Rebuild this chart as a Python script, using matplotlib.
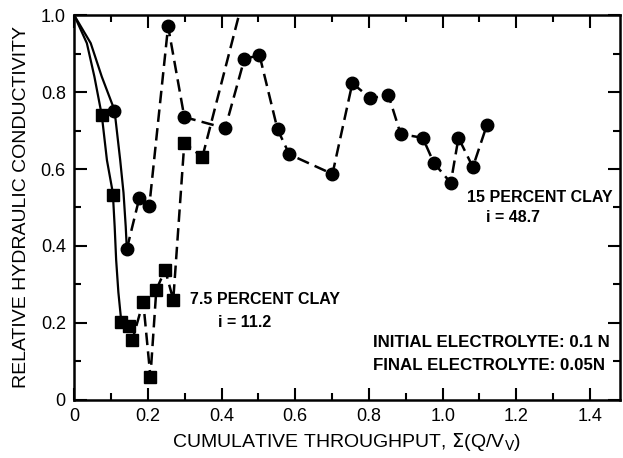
import matplotlib
matplotlib.use("Agg")
import matplotlib.pyplot as plt
from matplotlib.ticker import MultipleLocator

plt.rcParams['font.family'] = ['Liberation Sans', 'DejaVu Sans']

# 15 percent clay, i = 48.7 (circles)
clay15_fit_x = [0.0, 0.045, 0.075, 0.1095, 0.125, 0.134, 0.140, 0.143]
clay15_fit_y = [1.0, 0.927, 0.840, 0.753, 0.623, 0.538, 0.450, 0.392]
clay15_x = [0.109, 0.143, 0.177, 0.204, 0.255, 0.299, 0.410, 0.462, 0.503, 0.552, 0.584,
            0.701, 0.755, 0.804, 0.853, 0.886, 0.946, 0.976, 1.022, 1.043, 1.082, 1.120]
clay15_y = [0.750, 0.392, 0.525, 0.504, 0.971, 0.735, 0.706, 0.886, 0.896, 0.703, 0.638,
            0.587, 0.823, 0.784, 0.792, 0.691, 0.681, 0.616, 0.564, 0.681, 0.605, 0.714]

# 7.5 percent clay, i = 11.2 (squares)
clay75_fit_x = [0.0, 0.0345, 0.055, 0.075, 0.089, 0.105, 0.110, 0.114, 0.120, 0.128]
clay75_fit_y = [1.0, 0.927, 0.840, 0.740, 0.623, 0.538, 0.450, 0.364, 0.280, 0.203]
clay75_x = [0.076, 0.106, 0.128, 0.149, 0.158, 0.1875, 0.207, 0.223, 0.247, 0.269, 0.299, 0.348]
clay75_y = [0.740, 0.532, 0.203, 0.192, 0.156, 0.255, 0.060, 0.286, 0.338, 0.260, 0.668, 0.631]
# dashed trend leaving the top of the plot
clay75_exit_x = [0.348, 0.458]
clay75_exit_y = [0.631, 1.04]

xticks = [0, 0.2, 0.4, 0.6, 0.8, 1.0, 1.2, 1.4]
xtick_labels = ['0', '0.2', '0.4', '0.6', '0.8', '1.0', '1.2', '1.4']
yticks = [0, 0.2, 0.4, 0.6, 0.8, 1.0]
ytick_labels = ['0', '0.2', '0.4', '0.6', '0.8', '1.0']

fig = plt.figure(figsize=(6.23, 4.58), dpi=100)
ax = fig.add_axes([0.119, 0.127, 0.876, 0.840])

dash = (0, (5, 2.5))
ax.plot(clay15_fit_x, clay15_fit_y, color='black', lw=1.6)
ax.plot(clay75_fit_x, clay75_fit_y, color='black', lw=1.6)
ax.plot(clay15_x[1:], clay15_y[1:], color='black', lw=1.8, linestyle=dash)
ax.plot(clay75_x[2:], clay75_y[2:], color='black', lw=1.8, linestyle=dash)
ax.plot(clay75_exit_x, clay75_exit_y, color='black', lw=1.8, linestyle=dash)
ax.plot(clay15_x, clay15_y, 'o', color='black', markersize=9, linestyle='none')
ax.plot(clay75_x, clay75_y, 's', color='black', markersize=8.5, linestyle='none')

ax.set_xlim(0, 1.481)
ax.set_ylim(0, 1.0)
ax.set_xticks(xticks)
ax.set_xticklabels(xtick_labels)
ax.set_yticks(yticks)
ax.set_yticklabels(ytick_labels)
ax.xaxis.set_minor_locator(MultipleLocator(0.1))
ax.yaxis.set_minor_locator(MultipleLocator(0.1))
ax.tick_params(which='both', direction='in', top=True, right=True, width=1.5, labelsize=13, pad=6)
ax.tick_params(which='major', length=9)
ax.tick_params(which='minor', length=5)
for s in ax.spines.values():
    s.set_linewidth(1.8)

ax.set_xlabel(r'CUMULATIVE THROUGHPUT, $\Sigma$(Q/V$_\mathrm{V}$)', fontsize=14, labelpad=4)
ax.set_ylabel('RELATIVE HYDRAULIC CONDUCTIVITY', fontsize=14, labelpad=8)

ax.text(1.066, 0.525, '15 PERCENT CLAY', fontsize=11.5, fontweight='bold', ha='left', va='center')
ax.text(1.118, 0.475, 'i = 48.7', fontsize=11.5, fontweight='bold', ha='left', va='center')
ax.text(0.315, 0.260, '7.5 PERCENT CLAY', fontsize=11.5, fontweight='bold', ha='left', va='center')
ax.text(0.390, 0.202, 'i = 11.2', fontsize=11.5, fontweight='bold', ha='left', va='center')
ax.text(0.812, 0.148, 'INITIAL ELECTROLYTE: 0.1 N', fontsize=12.2, fontweight='bold', ha='left', va='center')
ax.text(0.812, 0.088, 'FINAL ELECTROLYTE: 0.05N', fontsize=12.2, fontweight='bold', ha='left', va='center')

fig.savefig('out.png', dpi=100)
